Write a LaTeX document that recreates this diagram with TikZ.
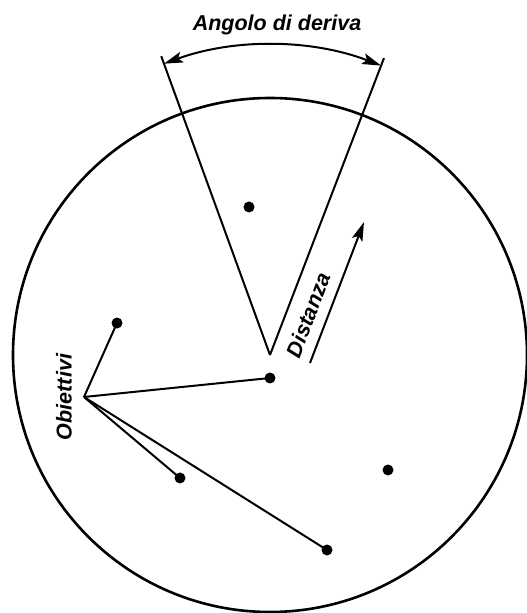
\documentclass[tikz,border=0pt]{standalone}
\usepackage{fontspec}
\setsansfont{Liberation Sans}
\usetikzlibrary{arrows.meta,calc}

\begin{document}
\begin{tikzpicture}[
  x=1pt, y=1pt,
  dot/.style={circle, fill, inner sep=0pt, minimum size=11pt},
  lbl/.style={font=\fontsize{21.5}{25}\selectfont\sffamily\bfseries\itshape, inner sep=1pt},
  arrow/.style={-{Stealth[length=19pt, width=11pt, inset=4pt]}, line width=2pt},
  rim/.style={line width=2.6pt},
  ray/.style={line width=2pt},
]
\useasboundingbox (0,0) rectangle (527,613);

% === SCHERMO RADAR ===
\coordinate (o) at (270,258);
\draw[rim] (o) circle (257);

% === ANGOLO DI DERIVA ===
\coordinate (sx) at ($(o)+(110:318)$);
\coordinate (dx) at ($(o)+(69:318)$);
\draw[ray] (o) -- (sx);
\draw[ray] (o) -- (dx);
\draw[{Stealth[length=19pt, width=11pt, inset=4pt]}-{Stealth[length=19pt, width=11pt, inset=4pt]}, line width=2pt]
  ($(o)+(110:310)$) arc[start angle=110, end angle=69, radius=310];
\node[lbl] (ang) at (277,588) {Angolo di deriva};

% === DISTANZA ===
\coordinate (ds) at (310,250);
\coordinate (de) at (364,391);
\draw[arrow] (ds) -- (de);
\node[lbl, rotate=69] (dist) at (308,298) {Distanza};

% === OBIETTIVI ===
\node[dot] (b1) at (249,406) {};
\node[dot] (b2) at (117,290) {};
\node[dot] (b3) at (270,235) {};
\node[dot] (b4) at (180,135) {};
\node[dot] (b5) at (388,143) {};
\node[dot] (b6) at (327,63) {};

\coordinate (hub) at (84,216);
\node[lbl, rotate=90] (obj) at (64,216) {Obiettivi};
\draw[ray] (hub) -- (b2.center);
\draw[ray] (hub) -- (b3.center);
\draw[ray] (hub) -- (b4.center);
\draw[ray] (hub) -- (b6.center);
\end{tikzpicture}
\end{document}
